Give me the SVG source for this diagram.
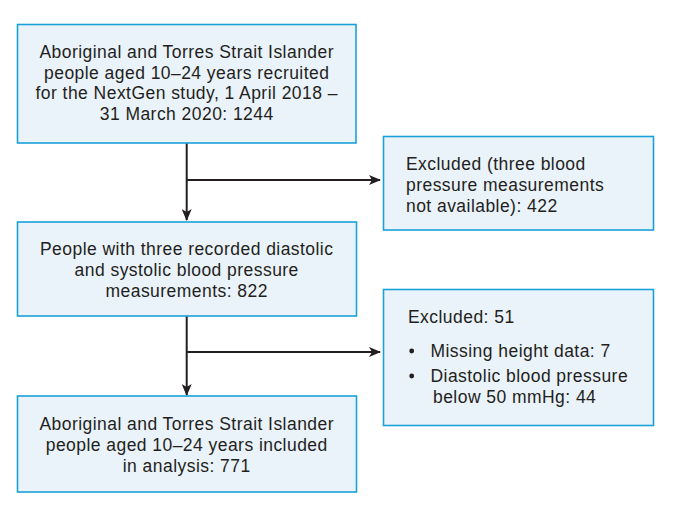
<svg xmlns="http://www.w3.org/2000/svg" width="675" height="506" viewBox="0 0 675 506">
<style>
.box{fill:#EAF2FA;stroke:#1BA1D9;stroke-width:1.6}
.t{font-family:"Liberation Sans","Open Sans",sans-serif;font-size:17.5px;letter-spacing:0.45px;fill:#231F20}
.c{text-anchor:middle}
.ln{stroke:#231F20;stroke-width:2;fill:none}
</style>
<defs>
<marker id="ah" viewBox="0 0 12 10" refX="11" refY="5" markerWidth="12" markerHeight="10" markerUnits="userSpaceOnUse" orient="auto">
<path d="M0,0 L12,5 L0,10 L3,5 Z" fill="#231F20"/>
</marker>
</defs>
<rect width="675" height="506" fill="#FFFFFF"/>
<g id="connectors">
<path class="ln" d="M186.7,143 V220" marker-end="url(#ah)"/>
<path class="ln" d="M186.7,180 H380" marker-end="url(#ah)"/>
<path class="ln" d="M186.7,316 V395" marker-end="url(#ah)"/>
<path class="ln" d="M186.7,352 H380" marker-end="url(#ah)"/>
</g>
<g id="recruited">
<rect class="box" x="17.5" y="24.5" width="338.5" height="118.5"/>
<text class="t c" x="186.7" y="58">Aboriginal and Torres Strait Islander</text>
<text class="t c" x="186.7" y="78.7">people aged 10–24 years recruited</text>
<text class="t c" x="186.7" y="99.4">for the NextGen study, 1 April 2018 –</text>
<text class="t c" x="186.7" y="120">31 March 2020: 1244</text>
</g>
<g id="excluded1">
<rect class="box" x="383.5" y="136.5" width="270" height="93.5"/>
<text class="t" x="406" y="170">Excluded (three blood</text>
<text class="t" x="406" y="190.8">pressure measurements</text>
<text class="t" x="406" y="211.5">not available): 422</text>
</g>
<g id="threebp">
<rect class="box" x="17.5" y="222" width="339" height="94"/>
<text class="t c" x="186.7" y="255">People with three recorded diastolic</text>
<text class="t c" x="186.7" y="275.7">and systolic blood pressure</text>
<text class="t c" x="186.7" y="296.5">measurements: 822</text>
</g>
<g id="excluded2">
<rect class="box" x="383.5" y="289.5" width="270" height="136"/>
<text class="t" x="408" y="322.5">Excluded: 51</text>
<circle cx="411.7" cy="351" r="2.4" fill="#231F20"/>
<text class="t" x="430.5" y="356.5">Missing height data: 7</text>
<circle cx="411.7" cy="376" r="2.4" fill="#231F20"/>
<text class="t" x="430.5" y="381.5">Diastolic blood pressure</text>
<text class="t" x="433" y="402.5">below 50 mmHg: 44</text>
</g>
<g id="included">
<rect class="box" x="17.5" y="396" width="339" height="96"/>
<text class="t c" x="186.7" y="430">Aboriginal and Torres Strait Islander</text>
<text class="t c" x="186.7" y="450.7">people aged 10–24 years included</text>
<text class="t c" x="186.7" y="471.5">in analysis: 771</text>
</g>
</svg>
